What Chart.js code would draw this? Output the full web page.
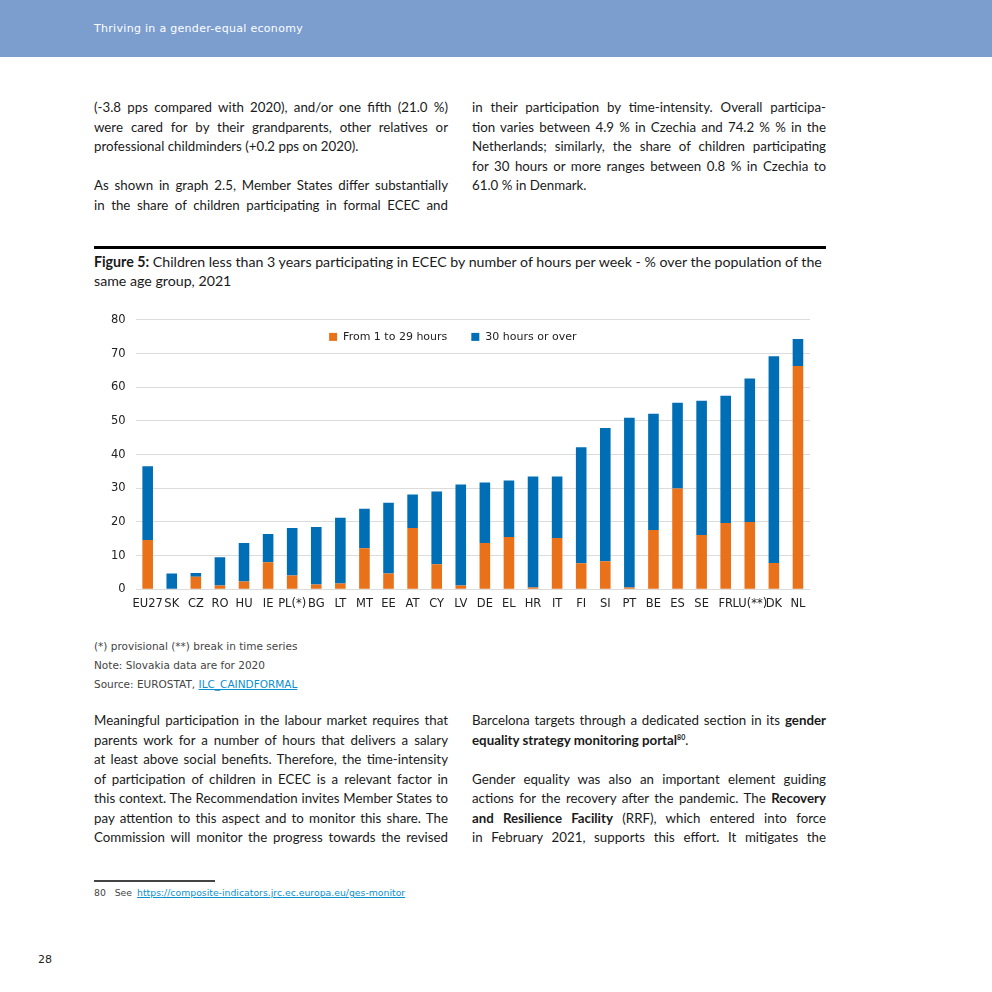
<!DOCTYPE html>
<html lang="en">
<head>
<meta charset="UTF-8" />
<title>Figure 5 - Children in ECEC by hours per week</title>
<script src="https://cdn.jsdelivr.net/npm/chart.js"></script>
<style>
    html, body { margin: 0; padding: 0; }
    body { width: 992px; height: 992px; position: relative; background: #fff; font-family: 'Lato', sans-serif; color: #1a1a1a; overflow: hidden; }
    .band { position: absolute; left: 0; top: 0; width: 992px; height: 57px; background: #7B9ECF; }
    .band span { position: absolute; left: 94px; top: 22px; font-size: 11px; color: #fff; letter-spacing: 0.3px; font-family: 'DejaVu Sans', sans-serif; }
    .col { position: absolute; width: 354px; font-size: 13.3px; line-height: 19.5px; }
    .col div { text-align: justify; text-align-last: justify; white-space: nowrap; }
    .col div.last { text-align-last: left; }
    .col div.gap { height: 19.5px; }
    .rule { position: absolute; left: 94px; top: 246px; width: 732px; height: 3px; background: #000; }
    .caption { position: absolute; left: 94px; top: 252px; width: 760px; font-size: 14.2px; line-height: 19px; }
    .chartbox { position: absolute; left: 94px; top: 303px; width: 732px; height: 308px; }
    .notes { position: absolute; left: 94px; top: 637px; font-size: 10.5px; line-height: 19px; color: #444; font-family: 'DejaVu Sans', sans-serif; }
    a { color: #0a8fd0; }
    .fnrule { position: absolute; left: 94px; top: 880px; width: 121px; height: 2px; background: #444; }
    .fn { position: absolute; left: 94px; top: 887px; font-size: 9.3px; color: #444; font-family: 'DejaVu Sans', sans-serif; }
    .fn a { margin-left: 5px; }
    .page { position: absolute; left: 38px; top: 953px; font-size: 11px; color: #222; font-family: 'DejaVu Sans', sans-serif; }
    sup { font-size: 7px; line-height: 0; }
</style>
</head>
<body>
<div class="band"><span>Thriving in a gender-equal economy</span></div>

<div class="col" style="left:94px; top:98px;">
    <div>(-3.8 pps compared with 2020), and/or one fifth (21.0 %)</div>
    <div>were cared for by their grandparents, other relatives or</div>
    <div class="last">professional childminders (+0.2 pps on 2020).</div>
    <div class="gap"></div>
    <div>As shown in graph 2.5, Member States differ substantially</div>
    <div>in the share of children participating in formal ECEC and</div>
</div>
<div class="col" style="left:472px; top:98px;">
    <div>in their participation by time-intensity. Overall participa-</div>
    <div>tion varies between 4.9 % in Czechia and 74.2 % % in the</div>
    <div>Netherlands; similarly, the share of children participating</div>
    <div>for 30 hours or more ranges between 0.8 % in Czechia to</div>
    <div class="last">61.0 % in Denmark.</div>
</div>

<div class="rule"></div>
<div class="caption"><b>Figure 5:</b> Children less than 3 years participating in ECEC by number of hours per week - % over the population of the<br>same age group, 2021</div>

<div class="chartbox"><canvas id="ececChart"></canvas></div>

<div class="notes">
    (*) provisional (**) break in time series<br>
    Note: Slovakia data are for 2020<br>
    Source: EUROSTAT, <a href="#">ILC_CAINDFORMAL</a>
</div>

<div class="col" style="left:94px; top:711px;">
    <div>Meaningful participation in the labour market requires that</div>
    <div>parents work for a number of hours that delivers a salary</div>
    <div>at least above social benefits. Therefore, the time-intensity</div>
    <div>of participation of children in ECEC is a relevant factor in</div>
    <div>this context. The Recommendation invites Member States to</div>
    <div>pay attention to this aspect and to monitor this share. The</div>
    <div>Commission will monitor the progress towards the revised</div>
</div>
<div class="col" style="left:472px; top:711px;">
    <div>Barcelona targets through a dedicated section in its <b>gender</b></div>
    <div class="last"><b>equality strategy monitoring portal<sup>80</sup></b>.</div>
    <div class="gap"></div>
    <div>Gender equality was also an important element guiding</div>
    <div>actions for the recovery after the pandemic. The <b>Recovery</b></div>
    <div><b>and Resilience Facility</b> (RRF), which entered into force</div>
    <div>in February 2021, supports this effort. It mitigates the</div>
</div>

<div class="fnrule"></div>
<div class="fn">80&nbsp;&nbsp;&nbsp;See<a href="#">https://composite-indicators.jrc.ec.europa.eu/ges-monitor</a></div>
<div class="page">28</div>

<script>
    // Figure 5 data (% of children under 3 in ECEC)
    const countries = ['EU27', 'SK', 'CZ', 'RO', 'HU', 'IE', 'PL(*)', 'BG', 'LT', 'MT', 'EE', 'AT', 'CY',
        'LV', 'DE', 'EL', 'HR', 'IT', 'FI', 'SI', 'PT', 'BE', 'ES', 'SE', 'FR', 'LU(**)', 'DK', 'NL'];
    const from1to29 = [14.6, 0, 3.7, 1.1, 2.3, 8.0, 4.1, 1.4, 1.7, 12.2, 4.7, 18.2, 7.4,
        1.1, 13.7, 15.5, 0.5, 15.2, 7.7, 8.3, 0.5, 17.6, 29.9, 16.1, 19.7, 20.0, 7.8, 66.3];
    const over30 = [21.9, 4.7, 1.1, 8.4, 11.4, 8.4, 14.1, 17.1, 19.5, 11.7, 21.0, 9.9, 21.6,
        30.0, 18.0, 16.8, 33.0, 18.3, 34.5, 39.6, 50.4, 34.5, 25.5, 39.9, 37.8, 42.6, 61.4, 8.0];
    const yTicks = [0, 10, 20, 30, 40, 50, 60, 70, 80];

    const ORANGE = '#E8711A';
    const BLUE = '#006EB4';
    const tickFont = { family: "'DejaVu Sans', sans-serif", size: 11.5 };

    // legend drawn inside the plot area, like the original
    const insideLegend = {
        id: 'insideLegend',
        afterDraw(chart, args, opts) {
            const ctx = chart.ctx;
            const area = chart.chartArea;
            ctx.save();
            ctx.font = "11px 'DejaVu Sans', sans-serif";
            ctx.textBaseline = 'middle';
            const box = 8, gap = 6, itemGap = 24;
            const items = chart.data.datasets.map(d => ({ label: d.label, color: d.backgroundColor, w: box + gap + ctx.measureText(d.label).width }));
            const total = items.reduce((s, it) => s + it.w, 0) + itemGap * (items.length - 1);
            let x = (area.left + area.right) / 2 + opts.shiftX - total / 2;
            const y = area.top + opts.offsetY;
            items.forEach(it => {
                ctx.fillStyle = it.color;
                ctx.fillRect(x, y - box / 2, box, box);
                ctx.fillStyle = '#222';
                ctx.fillText(it.label, x + box + gap, y + 0.5);
                x += it.w + itemGap;
            });
            ctx.restore();
        }
    };

    new Chart(document.getElementById('ececChart'), {
        type: 'bar',
        data: {
            labels: countries,
            datasets: [
                { label: 'From 1 to 29 hours', data: from1to29, backgroundColor: ORANGE, barPercentage: 0.44, categoryPercentage: 1 },
                { label: '30 hours or over', data: over30, backgroundColor: BLUE, barPercentage: 0.44, categoryPercentage: 1 }
            ]
        },
        options: {
            responsive: true,
            maintainAspectRatio: false,
            animation: false,
            layout: { padding: { left: 7, right: 16, top: 3, bottom: 0 } },
            plugins: {
                legend: { display: false },
                tooltip: { enabled: false },
                insideLegend: { shiftX: -20, offsetY: 17 }
            },
            scales: {
                x: {
                    stacked: true,
                    grid: { display: false },
                    border: { display: false },
                    ticks: { color: '#222', font: tickFont, maxRotation: 0, autoSkip: false, padding: 0 }
                },
                y: {
                    stacked: true,
                    min: 0,
                    max: 80,
                    afterBuildTicks: axis => { axis.ticks = yTicks.map(v => ({ value: v })); },
                    grid: { color: '#dcdcdc', drawTicks: false },
                    border: { display: false },
                    ticks: { color: '#222', font: tickFont, padding: 10 }
                }
            }
        },
        plugins: [insideLegend]
    });
</script>
</body>
</html>
